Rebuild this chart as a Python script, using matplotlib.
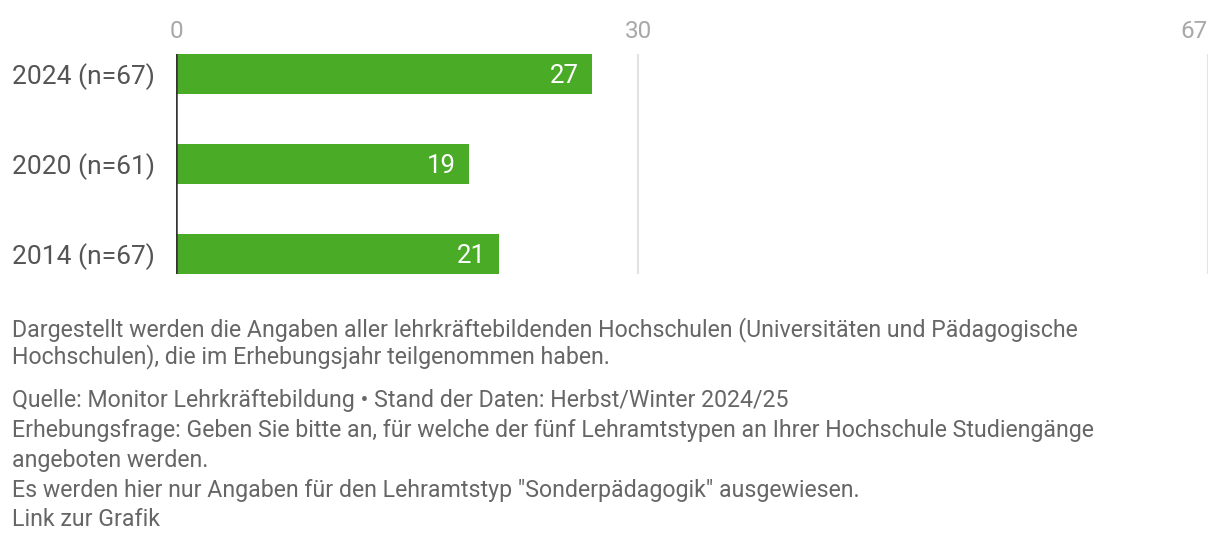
import numpy as np
import matplotlib
matplotlib.use("Agg")
import matplotlib.pyplot as plt

plt.rcParams['font.family'] = ['Roboto', 'DejaVu Sans']

# data
categories = ["2024 (n=67)", "2020 (n=61)", "2014 (n=67)"]
values = [27, 19, 21]
x_max = 67
x_ticks = [0, 30, 67]

note_lines = [
    "Dargestellt werden die Angaben aller lehrkräftebildenden Hochschulen (Universitäten und Pädagogische",
    "Hochschulen), die im Erhebungsjahr teilgenommen haben.",
]
source_lines = [
    "Quelle: Monitor Lehrkräftebildung • Stand der Daten: Herbst/Winter 2024/25",
    "Erhebungsfrage: Geben Sie bitte an, für welche der fünf Lehramtstypen an Ihrer Hochschule Studiengänge",
    "angeboten werden.",
    "Es werden hier nur Angaben für den Lehramtstyp \"Sonderpädagogik\" ausgewiesen.",
    "Link zur Grafik",
]

green = "#4aac26"
label_col = "#555555"
tick_col = "#a8a8a8"
grid_col = "#e3e3e3"

W, H = 1220, 544
fig = plt.figure(figsize=(W / 100, H / 100), dpi=100)
ax = fig.add_axes([176 / W, 1 - 274 / H, 1032 / W, 220 / H])

y = np.arange(len(categories))
bar_h = 40 / 90
ax.barh(y, values, height=bar_h, color=green, zorder=2)
ax.set_ylim(len(categories) - 1 + bar_h / 2, -bar_h / 2)
ax.set_xlim(0, x_max)

for yi, v in zip(y, values):
    ax.text(v - 0.85, yi + 0.02, str(v), color="white", fontsize=18.5,
            ha="right", va="center", zorder=3)

# gridlines
for t in x_ticks[1:]:
    ax.axvline(t, color=grid_col, lw=1.5, zorder=1)
ax.axvline(0, color="#333333", lw=1.8, zorder=4)

for s in ax.spines.values():
    s.set_visible(False)

ax.xaxis.tick_top()
ax.set_xticks(x_ticks)
ax.set_xticklabels([str(t) for t in x_ticks])
ax.tick_params(axis="x", length=0, pad=8, labelsize=17.5, labelcolor=tick_col)
ax.get_xticklabels()[-1].set_horizontalalignment("right")

ax.set_yticks(y)
ax.set_yticklabels(categories)
ax.tick_params(axis="y", length=0, pad=15, labelsize=19, labelcolor=label_col)

# footnotes
note_y = [330, 357]
src_y = [401, 430, 460, 490, 520]
for txt, py in zip(note_lines + source_lines, note_y + src_y):
    fig.text(12 / W, 1 - py / H, txt, fontsize=16.7, color="#666666",
             ha="left", va="center")

fig.savefig("out.png", dpi=100)
